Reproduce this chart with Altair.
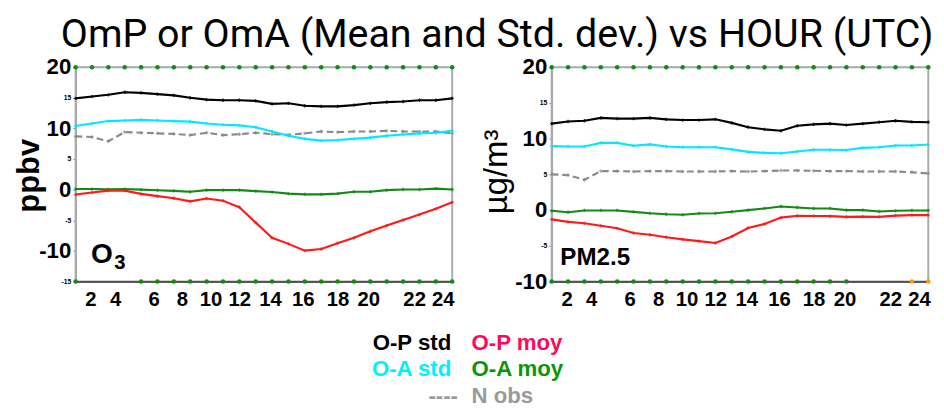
import altair as alt
import pandas as pd

hours = [1, 2, 3, 4, 5, 6, 7, 8, 9, 10, 11, 12, 13, 14, 15, 16, 17, 18, 19, 20, 21, 22, 23, 24]
x_ticks = [2, 4, 6, 8, 10, 12, 14, 16, 18, 20, 22, 24]
# the reference prints its hour labels slightly left of the matching hour (pixels)
x_label_shift = [-1.5, -10, -4, -8.5, -13, -17, -19, -19, -17, -19, -5.5, 0]

series_names = ["N obs", "O-A std", "O-P std", "O-A moy", "O-P moy"]
series_colors = ["#8a8a8a", "#00e8ff", "#000000", "#138a13", "#ff1a1a"]

# ---- O3 panel (ppbv)
o3_op_std = [14.9, 15.2, 15.5, 15.9, 15.8, 15.6, 15.4, 15.0, 14.7, 14.6, 14.6, 14.5,
             14.0, 14.1, 13.7, 13.6, 13.6, 13.8, 14.1, 14.3, 14.4, 14.6, 14.6, 14.9]
o3_oa_std = [10.4, 10.8, 11.2, 11.3, 11.4, 11.3, 11.2, 11.1, 10.8, 10.6, 10.5, 10.2,
             9.5, 8.8, 8.3, 8.0, 8.1, 8.3, 8.5, 8.8, 9.0, 9.2, 9.3, 9.6]
o3_nobs = [8.7, 8.6, 7.9, 9.4, 9.3, 9.2, 9.1, 8.9, 9.3, 8.9, 9.05, 9.3,
           9.05, 8.95, 9.2, 9.5, 9.4, 9.5, 9.5, 9.6, 9.5, 9.5, 9.5, 9.2]
o3_oa_moy = [0.1, 0.1, 0.05, 0.1, 0.0, -0.1, -0.2, -0.34, -0.07, -0.07, -0.07, -0.23,
             -0.39, -0.65, -0.76, -0.76, -0.65, -0.34, -0.34, -0.07, 0.03, 0.03, 0.18, 0.03]
o3_op_moy = [-0.8, -0.47, -0.16, -0.16, -0.68, -1.05, -1.4, -1.91, -1.44, -1.8, -2.86, -5.38,
             -7.86, -8.85, -9.96, -9.69, -8.74, -7.86, -6.8, -5.86, -4.96, -4.07, -3.13, -2.07]
o3_top_flag_hours = [1, 2, 3, 4, 5, 6, 7, 8, 9, 10, 11, 12, 13, 14, 15, 16, 17, 18, 19, 20, 21, 22, 23, 24]
o3_bottom_flag_hours = [1, 5, 6, 7, 8, 9, 10, 11, 12, 13, 14, 15, 16, 17, 18, 19, 20, 21, 22, 23, 24]
o3_domain = [-15, 20]

# ---- PM2.5 panel (ug/m3)
pm_op_std = [12.1, 12.4, 12.5, 12.9, 12.8, 12.8, 12.9, 12.7, 12.6, 12.6, 12.7, 12.2,
             11.6, 11.3, 11.1, 11.8, 12.0, 12.1, 11.9, 12.1, 12.3, 12.5, 12.35, 12.3]
pm_oa_std = [8.95, 8.9, 8.9, 9.4, 9.4, 9.0, 9.2, 8.9, 8.8, 8.8, 8.8, 8.5,
             8.14, 8.0, 7.96, 8.2, 8.45, 8.45, 8.4, 8.7, 8.8, 9.04, 9.04, 9.17]
pm_nobs = [5.0, 4.9, 4.24, 5.45, 5.45, 5.4, 5.45, 5.45, 5.4, 5.4, 5.4, 5.45,
           5.4, 5.45, 5.54, 5.54, 5.5, 5.45, 5.45, 5.4, 5.4, 5.4, 5.3, 5.13]
pm_oa_moy = [-0.1, -0.3, -0.05, -0.05, -0.05, -0.25, -0.45, -0.58, -0.65, -0.47, -0.45, -0.23,
             0.0, 0.23, 0.5, 0.36, 0.23, 0.23, 0.0, 0.0, -0.2, -0.1, -0.05, -0.05]
pm_op_moy = [-1.3, -1.65, -1.85, -2.2, -2.55, -3.2, -3.45, -3.8, -4.1, -4.35, -4.6, -3.7,
             -2.5, -1.95, -1.05, -0.8, -0.82, -0.85, -0.95, -0.92, -0.95, -0.78, -0.7, -0.7]
pm_top_flag_hours = [1, 2, 3, 4, 5, 6, 7, 8, 9, 10, 11, 12, 13, 14, 15, 16, 17, 18, 19, 20, 21, 22, 23, 24]
pm_bottom_flag_hours = [1, 2, 3, 4, 5, 6, 7, 8, 9, 10, 11, 12, 13, 14, 15, 16, 17, 18, 19]
pm_bottom_orange_hours = [23, 24]
pm_domain = [-10, 20]

legend_left_labels = ["O-P std", "O-A std"]
legend_left_colors = ["#000000", "#00f0ff"]
legend_right_labels = ["O-P moy", "O-A moy", "N obs"]
legend_right_colors = ["#ff0a5a", "#0a960a", "#9a9a9a"]

FONT = "Liberation Sans"
PANEL_W, PANEL_H = 390, 222

shift_expr = "{}[indexof({}, datum.value)]".format(
    "[" + ",".join(str(v) for v in x_label_shift) + "]",
    "[" + ",".join(str(v) for v in x_ticks) + "]")


def long_df(values_by_series):
    rows = []
    for name, vals in values_by_series.items():
        for h, v in zip(hours, vals):
            rows.append({"hour": h, "value": v, "series": name})
    return pd.DataFrame(rows)


def flags_df(top_hours, bottom_hours, domain, extra=None):
    rows = [{"hour": h, "value": domain[1], "c": "#138a13"} for h in top_hours]
    rows += [{"hour": h, "value": domain[0], "c": "#138a13"} for h in bottom_hours]
    if extra:
        rows += [{"hour": h, "value": domain[0], "c": "#ff9900"} for h in extra]
    return pd.DataFrame(rows)


def panel(df, flags, domain, ytitle, title_weight, title_size, title_x, title_y, annot):
    y_vals = list(range(domain[0], domain[1] + 1, 5))
    xenc = alt.X("hour:Q", scale=alt.Scale(domain=[1, 24], nice=False, zero=False),
                 axis=alt.Axis(values=x_ticks, title=None, grid=False, labelFontSize=21,
                               labelFontWeight="bold", labelFont=FONT, labelColor="black",
                               tickSize=0, domainColor="#333333", domainWidth=1.5,
                               labelPadding=8, labelFlush=True, labelFlushOffset=2,
                               labelOverlap=False, labelOffset=alt.ExprRef(shift_expr)))
    yenc = alt.Y("value:Q", scale=alt.Scale(domain=domain, nice=False, zero=False),
                 axis=alt.Axis(values=y_vals, grid=False, title=ytitle,
                               labelFont=FONT, labelFontWeight="bold", labelColor="black",
                               labelFontSize={"condition": {"test": "datum.value % 10 === 0", "value": 23},
                                              "value": 7},
                               labelExpr="'' + datum.value", labelOverlap=False,
                               labelFlush=False, labelPadding=2, tickSize=3,
                               tickColor="#999999", domainColor="#aaaaaa", domainWidth=2,
                               titleFont=FONT, titleFontSize=title_size, titleFontWeight=title_weight,
                               titleColor="black", titleX=title_x, titleY=title_y))
    color = alt.Color("series:N", scale=alt.Scale(domain=series_names, range=series_colors), legend=None)
    base = alt.Chart(df)
    dashed = base.transform_filter("datum.series === 'N obs'").mark_line(
        strokeWidth=2.2, strokeDash=[7, 4]).encode(x=xenc, y=yenc, color=color)
    solid = base.transform_filter("datum.series !== 'N obs'").mark_line(
        strokeWidth=2.2).encode(x=xenc, y=yenc, color=color, detail="series:N")
    pts = base.mark_point(shape="cross", size=12, filled=True, opacity=0.8).encode(
        x=xenc, y=yenc, color=color)
    fl = alt.Chart(flags).mark_circle(size=22, opacity=1).encode(
        x=xenc, y=yenc, color=alt.Color("c:N", scale=None))
    layers = [dashed, solid, pts, fl] + annot
    return alt.layer(*layers).properties(
        width=PANEL_W, height=PANEL_H,
        view=alt.ViewBackground(stroke="#aaaaaa", strokeWidth=2))


o3_df = long_df({"N obs": o3_nobs, "O-A std": o3_oa_std, "O-P std": o3_op_std,
                 "O-A moy": o3_oa_moy, "O-P moy": o3_op_moy})
pm_df = long_df({"N obs": pm_nobs, "O-A std": pm_oa_std, "O-P std": pm_op_std,
                 "O-A moy": pm_oa_moy, "O-P moy": pm_op_moy})

o3_annot = [
    alt.Chart(pd.DataFrame({"t": ["O"]})).mark_text(
        font=FONT, fontSize=29, fontWeight="bold", align="left", baseline="alphabetic", color="black"
    ).encode(text="t:N", x=alt.value(16), y=alt.value(203)),
    alt.Chart(pd.DataFrame({"t": ["3"]})).mark_text(
        font=FONT, fontSize=21, fontWeight="bold", align="left", baseline="alphabetic", color="black"
    ).encode(text="t:N", x=alt.value(40), y=alt.value(209)),
]
pm_annot = [
    alt.Chart(pd.DataFrame({"t": ["PM2.5"]})).mark_text(
        font=FONT, fontSize=25, fontWeight="bold", align="left", baseline="alphabetic", color="black"
    ).encode(text="t:N", x=alt.value(9), y=alt.value(205)),
]

left = panel(o3_df, flags_df(o3_top_flag_hours, o3_bottom_flag_hours, o3_domain), o3_domain,
             "ppbv", "bold", 32, -31, 112, o3_annot)
right = panel(pm_df, flags_df(pm_top_flag_hours, pm_bottom_flag_hours, pm_domain, pm_bottom_orange_hours),
              pm_domain, "µg/m³", "normal", 34, -40, 108, pm_annot)

row = alt.hconcat(left, right, spacing=22)

leg_l = pd.DataFrame({"label": legend_left_labels, "c": legend_left_colors, "row": [0, 1]})
leg_r = pd.DataFrame({"label": legend_right_labels, "c": legend_right_colors, "row": [0, 1, 2]})
leg_d = pd.DataFrame({"label": ["----"], "c": ["#9a9a9a"], "row": [2]})
yrow = alt.Y("row:O", scale=alt.Scale(domain=[0, 1, 2], paddingInner=0, paddingOuter=0), axis=None)
txt = dict(font=FONT, fontSize=23, fontWeight="bold", baseline="middle")
legend = alt.layer(
    alt.Chart(leg_l).mark_text(align="right", **txt).encode(
        text="label:N", y=yrow, x=alt.value(389), color=alt.Color("c:N", scale=None)),
    alt.Chart(leg_d).mark_text(align="right", **txt).encode(
        text="label:N", y=yrow, x=alt.value(396), color=alt.Color("c:N", scale=None)),
    alt.Chart(leg_r).mark_text(align="left", **txt).encode(
        text="label:N", y=yrow, x=alt.value(410), color=alt.Color("c:N", scale=None)),
).properties(width=600, height=82, view=alt.ViewBackground(stroke="transparent"))

chart = alt.vconcat(row, legend, spacing=19).properties(
    title=alt.TitleParams("OmP or OmA (Mean and Std. dev.) vs HOUR (UTC)", font="Roboto",
                          fontSize=40.8, fontWeight="normal", anchor="end", color="black", offset=0),
    padding={"left": 5, "top": 0, "right": 2, "bottom": 0},
).configure(background="white")

chart.save("out.html", embed_options={"renderer": "svg", "actions": False})
